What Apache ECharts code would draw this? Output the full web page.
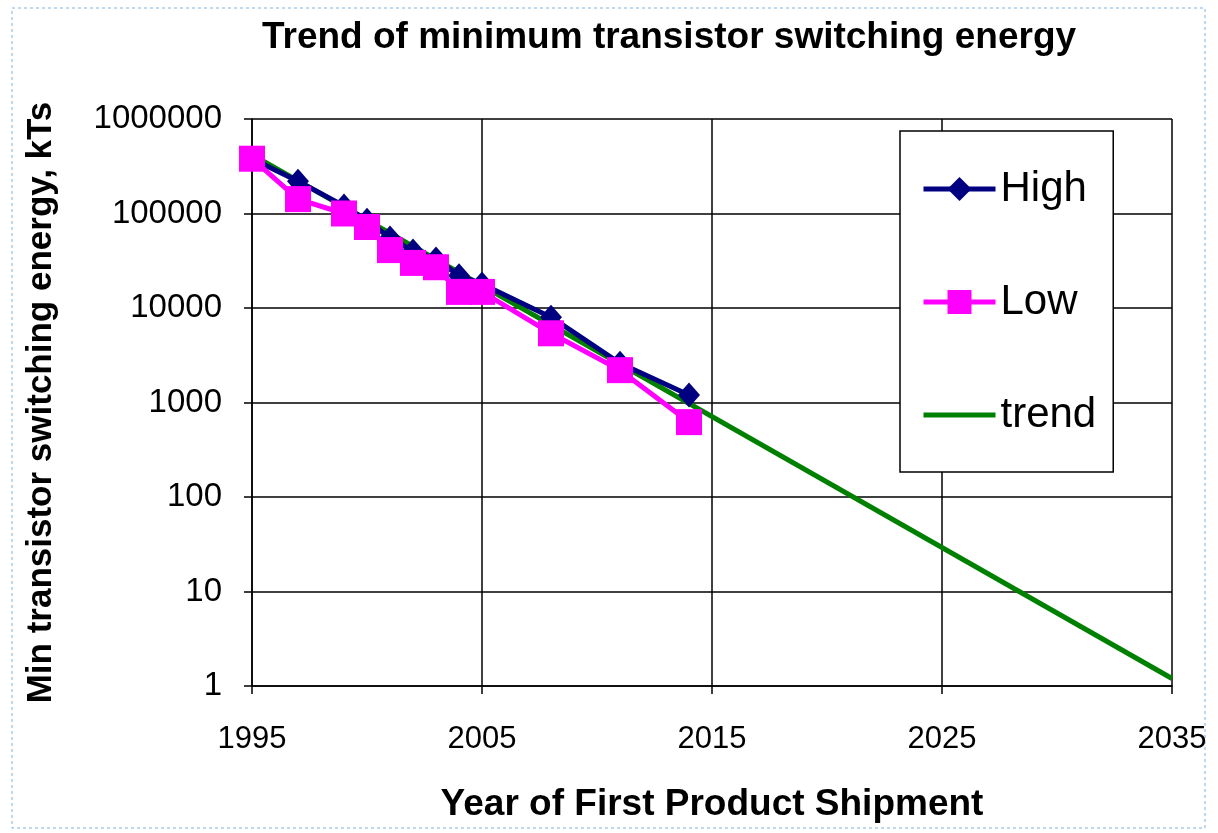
<!DOCTYPE html>
<html>
<head>
<meta charset="utf-8">
<script src="https://cdn.jsdelivr.net/npm/echarts@6/dist/echarts.min.js"></script>
<style>
html,body{margin:0;padding:0;background:#fff;}
#chart{width:1218px;height:833px;}
</style>
</head>
<body>
<div id="chart"></div>
<script>
// ---- data ----
const years = [1995, 1997, 1999, 2000, 2001, 2002, 2003, 2004, 2005, 2008, 2011, 2014];
const highValues = [380000, 220000, 120000, 85000, 55000, 40000, 33000, 22000, 18000, 8000, 2600, 1200];
const lowValues = [380000, 142000, 100000, 72000, 41000, 30000, 27000, 14800, 14800, 5400, 2200, 620];
const trendYears = [1995, 2035];
const trendValues = [420000, 1.2];
const xTickYears = [1995, 2005, 2015, 2025, 2035];
const yTickValues = [1, 10, 100, 1000, 10000, 100000, 1000000];

const baseYear = xTickYears[0];
const pairs = (xs, ys) => xs.map((x, i) => [x - baseYear, ys[i]]);

const chart = echarts.init(document.getElementById('chart'));
const font = 'Liberation Sans, Arial, sans-serif';
chart.setOption({
  animation: false,
  backgroundColor: '#fff',
  title: {
    text: 'Trend of minimum transistor switching energy',
    left: 664, top: 14, textAlign: 'center',
    textStyle: {fontFamily: font, fontSize: 37, fontWeight: 'bold', color: '#000'}
  },
  graphic: [{
    type: 'rect', shape: {x: 12, y: 8, width: 1193, height: 820},
    style: {fill: 'none', stroke: '#7fb2dd', lineWidth: 1, lineDash: [3, 3]}, silent: true
  }],
  legend: {
    orient: 'vertical', left: 900, top: 131,
    padding: [37, 17, 36, 21],
    backgroundColor: '#fff', borderColor: '#000', borderWidth: 1.5,
    itemWidth: 72, itemHeight: 30, itemGap: 71,
    lineStyle: {width: 5},
    textStyle: {fontFamily: font, fontSize: 42, color: '#000'},
    data: ['High', 'Low', {name: 'trend', itemStyle: {opacity: 0}}]
  },
  grid: {left: 252, right: 46, top: 119, bottom: 147},
  xAxis: {
    type: 'value', min: 0, max: 40, interval: 10,
    name: 'Year of First Product Shipment', nameLocation: 'middle', nameGap: 100,
    nameTextStyle: {fontFamily: font, fontSize: 37, fontWeight: 'bold', color: '#000'},
    axisLine: {show: true, lineStyle: {color: '#000', width: 1.5}},
    axisTick: {show: true, length: 8, lineStyle: {color: '#000', width: 1.5}},
    axisLabel: {fontFamily: font, fontSize: 31, color: '#000', margin: 38,
      formatter: v => String(v + baseYear)},
    splitLine: {show: true, lineStyle: {color: '#000', width: 1.5}}
  },
  yAxis: {
    type: 'log', logBase: 10, min: yTickValues[0], max: yTickValues[yTickValues.length - 1],
    name: 'Min transistor switching energy, kTs', nameLocation: 'middle', nameGap: 193,
    nameRotate: 90,
    nameTextStyle: {fontFamily: font, fontSize: 35, fontWeight: 'bold', color: '#000'},
    axisLine: {show: true, lineStyle: {color: '#000', width: 1.5}},
    axisTick: {show: true, length: 8, lineStyle: {color: '#000', width: 1.5}},
    axisLabel: {fontFamily: font, fontSize: 33, color: '#000', margin: 30,
      formatter: v => String(Math.round(v))},
    splitLine: {show: true, lineStyle: {color: '#000', width: 1.5}}
  },
  series: [
    {
      name: 'trend', type: 'line', z: 2, data: pairs(trendYears, trendValues),
      showSymbol: false, symbol: 'none',
      lineStyle: {color: '#008000', width: 5}, itemStyle: {color: '#008000'}
    },
    {
      name: 'High', type: 'line', z: 3, data: pairs(years, highValues),
      symbol: 'diamond', symbolSize: [22, 25],
      lineStyle: {color: '#000080', width: 5}, itemStyle: {color: '#000080'}
    },
    {
      name: 'Low', type: 'line', z: 4, data: pairs(years, lowValues),
      symbol: 'rect', symbolSize: 26,
      lineStyle: {color: '#ff00ff', width: 5}, itemStyle: {color: '#ff00ff'}
    }
  ]
});
</script>
</body>
</html>
